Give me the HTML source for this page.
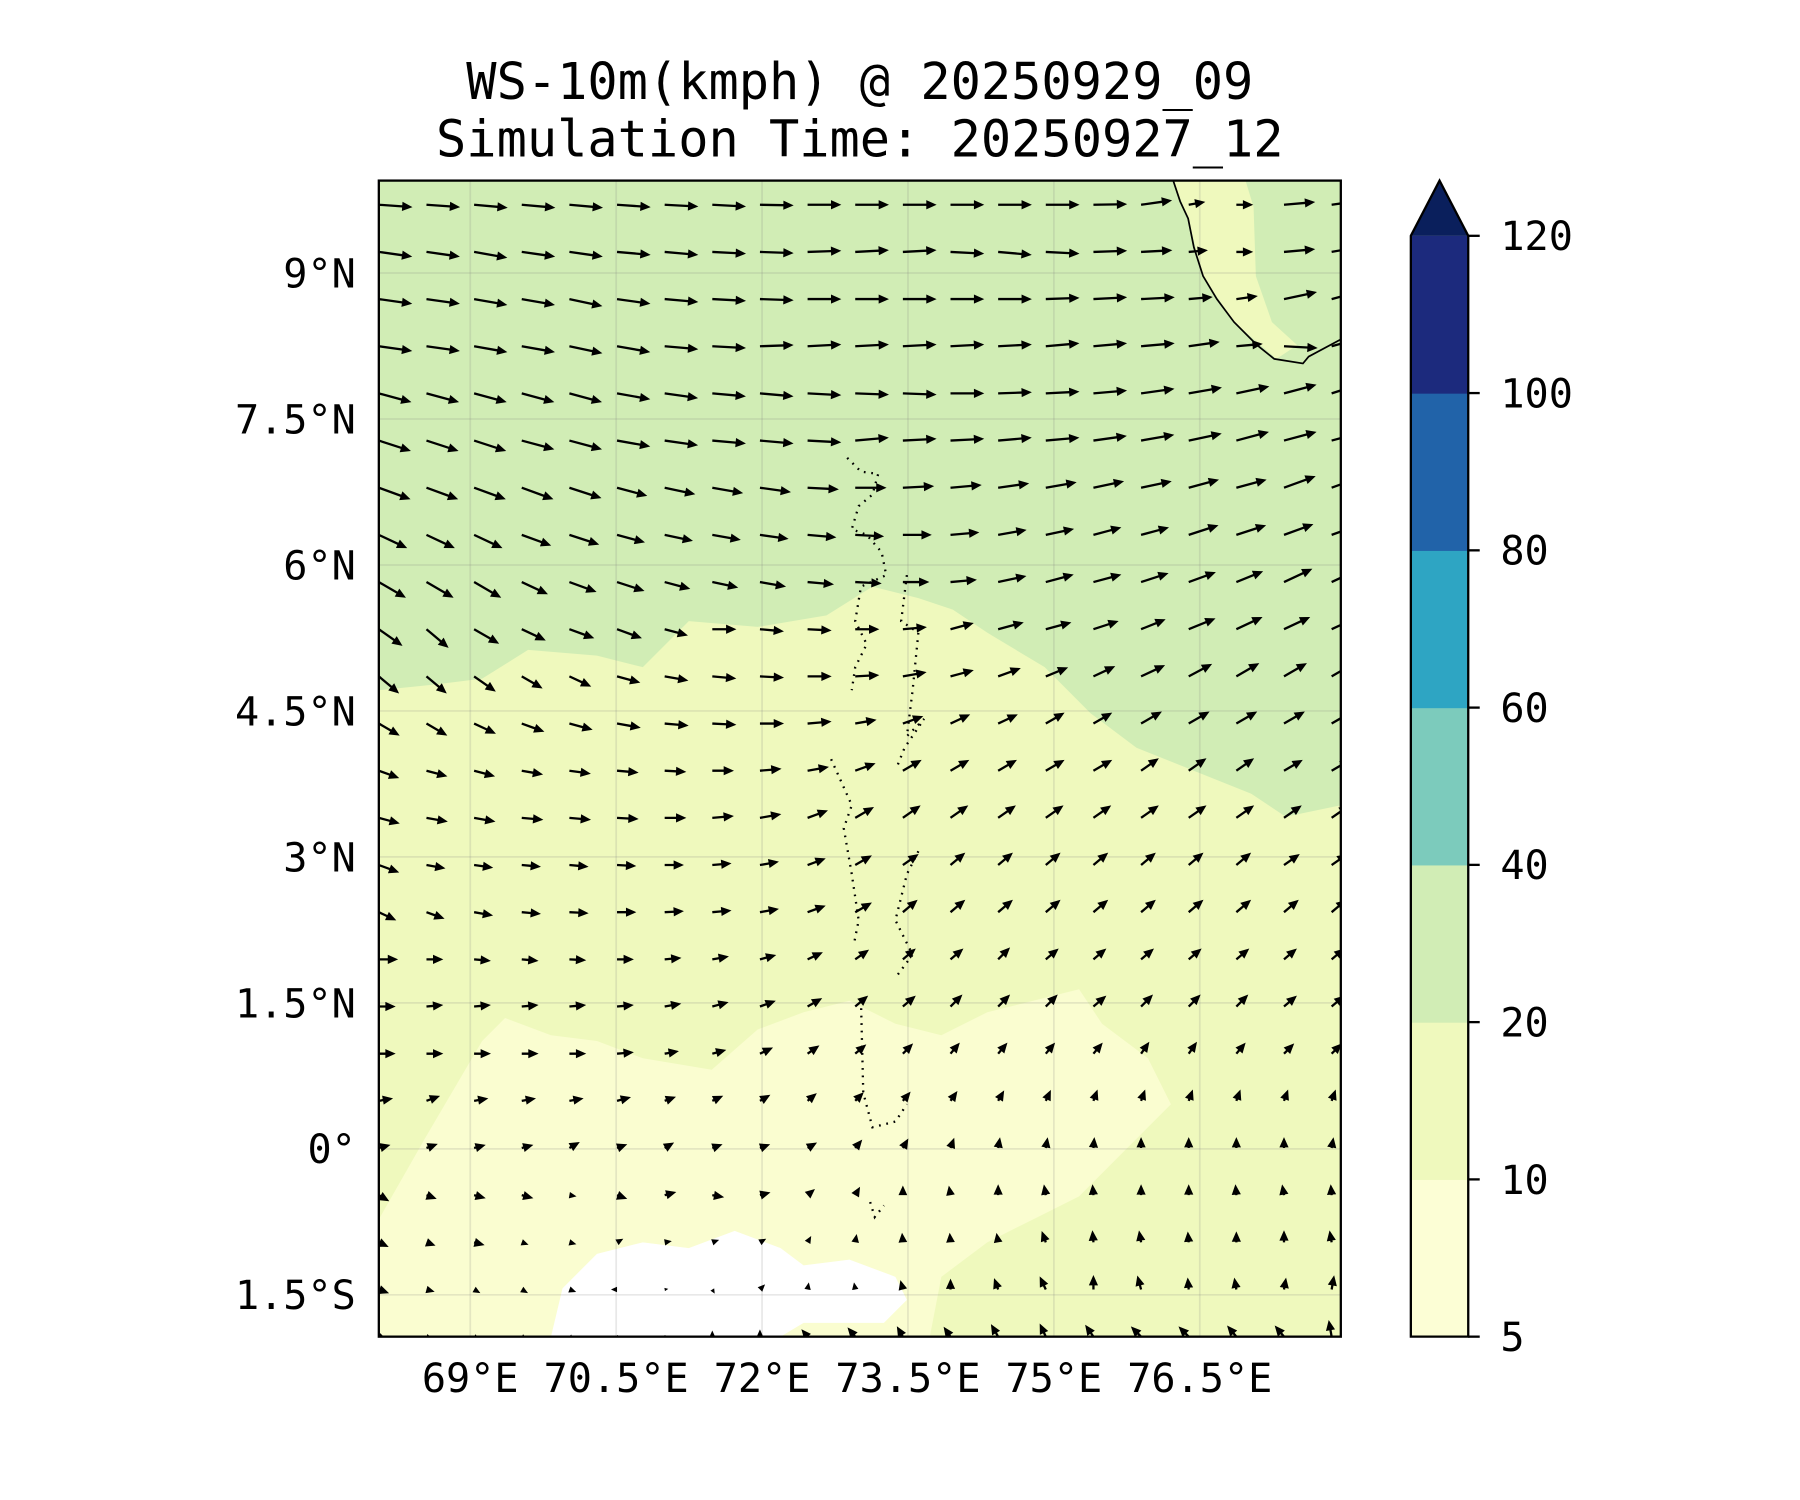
<!DOCTYPE html>
<html><head><meta charset="utf-8"><style>
html,body{margin:0;padding:0;background:#fff;}
svg{display:block;}
text{font-family:"DejaVu Sans Mono","Liberation Mono",monospace;fill:#000;}
</style></head><body>
<svg id="chart" width="1800" height="1500" viewBox="0 0 1568 1304" preserveAspectRatio="none" xmlns="http://www.w3.org/2000/svg">
<defs><clipPath id="plotclip"><rect x="330" y="157" width="838" height="1005"/></clipPath></defs>
<text x="749" y="86" font-size="43.8" text-anchor="middle">WS-10m(kmph) @ 20250929_09</text>
<text x="749" y="136" font-size="43.8" text-anchor="middle">Simulation Time: 20250927_12</text>
<g clip-path="url(#plotclip)">
  <rect x="330" y="157" width="838" height="1005" fill="#d1edb5"/>
  <path fill="#eff9bd" d="M330,600 L380,595 L420,590 L460,565 L520,570 L560,580 L600,540 L660,545 L720,535 L760,510 L800,520 L830,530 L860,550 L910,580 L950,620 L990,650 L1040,670 L1090,690 L1120,710 L1168,700 L1168,1162 L330,1162 Z"/>
  <path fill="#eff9bd" d="M1022,157 L1085,157 L1092,180 L1094,240 L1108,280 L1130,300 L1112,312 L1075,280 L1048,240 L1035,190 Z"/>
  <path fill="#fafdd0" d="M330,1060 L370,990 L420,905 L440,885 L480,900 L520,905 L560,920 L620,930 L660,895 L700,880 L740,870 L780,890 L820,900 L860,880 L900,870 L940,860 L960,890 L1000,920 L1020,960 L980,1000 L940,1040 L900,1060 L860,1080 L820,1110 L810,1162 L330,1162 Z"/>
  <path fill="#ffffff" d="M480,1162 L490,1120 L520,1090 L560,1080 L600,1085 L640,1070 L680,1085 L700,1100 L740,1095 L780,1110 L790,1130 L770,1150 L700,1150 L680,1162 Z"/>
  <g stroke="rgba(128,128,128,0.18)" stroke-width="1.5" id="grid"></g>
  <path fill="none" stroke="#000" stroke-width="1.5" d="M1022,157 L1028,175 L1035,190 L1040,215 L1048,240 L1060,260 L1075,280 L1095,300 L1110,312 L1135,316 L1140,310 L1168,295"/>
  <path fill="none" stroke="#000" stroke-width="2" stroke-dasharray="1.5 5" d="M738,398 L750,410 L765,412 L760,430 L748,440 L742,460 L755,465 L768,480 L772,500 L750,510 L745,540 L755,560 L745,580 L742,600 M790,500 L785,540 L800,550 L795,600 L790,640 L805,625 L788,650 L782,665 M724,660 L742,700 L735,720 L742,760 L748,800 L744,820 M800,740 L790,760 L780,800 L795,830 L780,850 M750,870 L752,950 L760,980 L780,975 L790,960 M758,1045 L762,1058 L770,1048"/>
  <g id="arrows"></g>
</g>
<rect x="330" y="157" width="838" height="1005" fill="none" stroke="#000" stroke-width="2"/>
<g id="ticklabels"></g>
<g id="cbar"></g>
</svg>
<script>
const NS = "http://www.w3.org/2000/svg";
const latTicks = [9, 7.5, 6, 4.5, 3, 1.5, 0, -1.5];
const latLabels = ["9°N","7.5°N","6°N","4.5°N","3°N","1.5°N","0°","1.5°S"];
const lonTicks = [69, 70.5, 72, 73.5, 75, 76.5];
const lonLabels = ["69°E","70.5°E","72°E","73.5°E","75°E","76.5°E"];
const cbarLevels = [5, 10, 20, 40, 60, 80, 100, 120];
const cbarColors = ["#fcfed5","#eff9bd","#d1edb5","#7ccbbc","#2ea5c3","#2163a9","#1c2a7d"];
const cbarExtendColor = "#0a1f5c";
// wind direction (deg CCW from east), rows north -> south, 21 columns west -> east
const windAngle = [
[-4,-4,-5,-5,-5,-4,-3,-3,-1,0,0,0,0,0,0,1,8,10,0,5,8],
[-8,-8,-10,-8,-8,-5,-5,-3,-2,2,3,3,-3,-5,-3,2,3,5,0,5,10],
[-8,-8,-10,-10,-12,-8,-5,-3,-2,0,0,0,0,0,2,3,3,5,8,12,15],
[-8,-8,-10,-10,-12,-10,-5,-3,2,3,3,3,3,3,5,5,5,8,5,-3,15],
[-15,-15,-15,-15,-15,-10,-8,-5,-5,-3,-2,-2,0,2,3,5,8,10,12,15,18],
[-18,-18,-18,-15,-15,-10,-8,-5,-5,-3,5,3,3,5,5,8,10,12,15,15,15],
[-20,-20,-20,-20,-18,-15,-12,-10,-8,-3,0,3,5,8,10,12,12,15,15,20,20],
[-25,-25,-25,-20,-18,-15,-12,-10,-8,-5,-3,0,5,10,12,15,15,18,18,20,20],
[-30,-30,-30,-25,-20,-18,-15,-12,-10,-5,-3,0,5,12,15,15,18,20,22,25,25],
[-35,-40,-30,-25,-20,-20,-15,0,-5,-3,0,5,15,15,15,18,22,22,25,25,25],
[-40,-40,-35,-30,-25,-15,-10,-5,-3,0,3,10,15,20,22,25,25,28,30,30,30],
[-30,-30,-25,-20,-15,-10,-5,-3,0,5,10,20,25,25,30,30,30,30,30,30,30],
[-20,-15,-15,-10,-8,-5,-3,0,5,10,20,30,30,30,30,30,35,35,35,30,30],
[-15,-10,-10,-5,-5,-3,0,5,10,20,30,35,35,35,35,35,35,35,35,35,35],
[-20,-10,-8,-5,-5,-3,0,5,10,20,30,35,40,40,40,40,40,40,40,35,35],
[-25,-20,-10,-5,-3,0,3,5,10,20,30,40,40,40,40,40,40,40,40,40,40],
[0,0,-5,-5,-3,0,5,10,15,25,35,40,40,45,40,40,40,40,40,40,40],
[0,5,5,5,5,5,10,15,20,30,40,40,45,45,45,40,45,45,45,40,40],
[0,0,0,0,0,5,10,15,25,35,40,45,50,50,50,50,55,55,50,45,45],
[10,20,10,10,10,15,20,25,30,40,45,50,55,60,65,70,70,70,70,70,70],
[15,20,15,15,30,20,30,20,20,30,50,60,70,80,80,85,90,90,90,90,80],
[-30,-20,-15,-15,-10,-20,15,-10,15,40,60,90,100,90,100,95,90,90,95,100,95],
[-25,-20,-15,-20,-15,30,10,20,30,60,80,95,95,100,110,95,100,95,90,90,100],
[-20,-15,-30,-30,-20,180,10,-60,45,80,100,105,90,110,115,90,105,95,100,80,80],
[-20,-20,-30,-30,-40,0,0,90,90,130,130,120,125,120,115,125,135,135,130,130,100]
];
// wind speed (kmph)
const windSpeed = [
[28,28,28,28,28,28,28,28,28,28,28,28,28,28,28,28,26,14,14,26,28],
[28,28,28,28,28,28,28,28,28,28,28,28,28,28,28,28,26,16,14,26,28],
[28,28,28,28,28,28,28,28,28,28,28,28,28,28,28,28,28,20,18,28,28],
[28,28,28,28,28,28,28,28,28,28,28,28,28,28,28,28,28,26,22,28,28],
[28,28,28,28,28,28,28,28,28,28,28,28,28,28,28,28,28,28,28,28,28],
[28,28,28,28,28,28,28,28,28,28,28,28,28,28,28,28,28,28,28,28,28],
[28,28,28,28,28,26,26,26,26,26,26,26,26,26,26,26,26,26,26,28,28],
[26,26,26,26,26,24,24,24,24,24,24,24,24,24,24,24,24,26,26,26,26],
[26,26,26,24,24,24,22,22,22,22,22,22,22,24,24,24,24,24,24,26,26],
[24,24,24,22,22,22,20,20,20,20,20,20,20,22,22,22,22,24,24,24,24],
[22,22,22,20,20,20,20,20,20,20,20,20,20,20,20,20,22,22,22,22,22],
[20,20,20,20,20,20,20,20,20,20,18,18,18,18,18,18,20,20,20,20,20],
[18,18,18,18,18,18,18,18,18,18,18,18,18,18,18,18,18,18,18,18,18],
[18,18,18,18,18,18,18,18,18,18,18,18,18,18,18,18,18,18,18,18,18],
[18,16,16,16,16,16,16,16,16,16,16,16,16,16,16,16,16,16,16,16,16],
[16,16,16,16,16,16,16,16,16,16,16,16,16,16,16,16,16,16,16,16,16],
[16,14,14,14,14,14,14,14,14,14,14,14,14,14,14,14,14,14,14,14,14],
[14,14,14,14,14,14,14,14,14,14,14,14,14,14,14,14,14,14,14,14,14],
[14,14,14,14,14,14,12,12,12,12,12,12,12,12,12,12,12,12,12,12,12],
[12,12,12,12,12,12,10,10,10,10,10,10,10,10,10,10,10,10,10,10,10],
[10,10,10,10,10,9,9,9,9,9,9,9,9,9,9,9,9,9,9,9,9],
[10,9,10,10,6,9,10,10,9,8,8,8,8,9,9,9,9,9,9,9,9],
[9,8,9,6,6,6,6,6,6,6,7,8,8,8,10,10,10,9,9,10,10],
[9,7,6,6,6,5,3,4,6,6,6,8,9,10,12,12,12,10,10,10,12],
[7,5,5,5,5,3,3,5,6,8,10,10,10,12,12,12,12,12,12,12,14]
];

const X0 = 330, X1 = 1168, Y0 = 157, Y1 = 1162;
const lonMin = 68.06, lonMax = 77.95, latMax = 9.95, latMin = -1.93;
function xScale(lon){ return X0 + (lon - lonMin) / (lonMax - lonMin) * (X1 - X0); }
function yScale(lat){ return Y0 + (latMax - lat) / (latMax - latMin) * (Y1 - Y0); }
const lenScale = 1.05;

const grid = document.getElementById('grid');
latTicks.forEach(function(t){
  const l = document.createElementNS(NS,'line');
  
  
  l.setAttribute('x1',X0); l.setAttribute('x2',X1);
  l.setAttribute('y1',yScale(t)); l.setAttribute('y2',yScale(t));
  grid.appendChild(l);
});
lonTicks.forEach(function(t){
  const l = document.createElementNS(NS,'line');
  
  
  l.setAttribute('y1',Y0); l.setAttribute('y2',Y1);
  l.setAttribute('x1',xScale(t)); l.setAttribute('x2',xScale(t));
  grid.appendChild(l);
});

const tl = document.getElementById('ticklabels');
latTicks.forEach(function(t,i){
  const tx = document.createElementNS(NS,'text');
  
  
  tx.setAttribute('x',310); tx.setAttribute('y',yScale(t)+12.5);
  tx.setAttribute('font-size','35'); tx.setAttribute('text-anchor','end');
  tx.textContent = latLabels[i];
  tl.appendChild(tx);
});
lonTicks.forEach(function(t,i){
  const tx = document.createElementNS(NS,'text');
  
  
  tx.setAttribute('x',xScale(t)); tx.setAttribute('y',1210);
  tx.setAttribute('font-size','35'); tx.setAttribute('text-anchor','middle');
  tx.textContent = lonLabels[i];
  tl.appendChild(tx);
});

// arrows
const ag = document.getElementById('arrows');
const nRows = windAngle.length, nCols = windAngle[0].length;
const dxCol = 41.5, dyRow = 41, ax0 = 330, ay0 = 178;
for (let j = 0; j < nRows; j++){
  for (let i = 0; i < nCols; i++){
    const L = windSpeed[j][i] * lenScale;
    const ang = windAngle[j][i];
    const h = Math.min(9, L), hw = Math.min(4, L*0.45), sw = 1;
    const pts = [[0,-sw],[L-h,-sw],[L-h,-hw],[L,0],[L-h,hw],[L-h,sw],[0,sw]];
    const p = document.createElementNS(NS,'polygon');
    
    
    p.setAttribute('points', pts.map(function(q){return q[0].toFixed(1)+','+q[1].toFixed(1);}).join(' '));
    p.setAttribute('fill','#000');
    p.setAttribute('transform','translate('+(ax0+dxCol*i)+','+(ay0+dyRow*j)+') rotate('+(-ang)+')');
    ag.appendChild(p);
  }
}

// colorbar
const cb = document.getElementById('cbar');
const CX = 1229, CW = 50, CY0 = 205, CY1 = 1162;
const segH = (CY1 - CY0) / (cbarLevels.length - 1);
function cbY(i){ return CY1 - i * segH; }
cbarColors.forEach(function(c,i){
  const r = document.createElementNS(NS,'rect');
  
  
  r.setAttribute('x',CX); r.setAttribute('width',CW);
  r.setAttribute('y',cbY(i+1)); r.setAttribute('height',segH+0.5);
  r.setAttribute('fill',c);
  cb.appendChild(r);
});
const tri = document.createElementNS(NS,'polygon');


tri.setAttribute('points', CX+','+CY0+' '+(CX+CW)+','+CY0+' '+(CX+CW/2)+',157');
tri.setAttribute('fill',cbarExtendColor);
cb.appendChild(tri);
const outline = document.createElementNS(NS,'polygon');


outline.setAttribute('points', CX+','+CY1+' '+CX+','+CY0+' '+(CX+CW/2)+',157 '+(CX+CW)+','+CY0+' '+(CX+CW)+','+CY1);
outline.setAttribute('fill','none'); outline.setAttribute('stroke','#000'); outline.setAttribute('stroke-width','2');
cb.appendChild(outline);
cbarLevels.forEach(function(v,i){
  const y = cbY(i);
  const tk = document.createElementNS(NS,'line');
  
  
  tk.setAttribute('x1',CX+CW); tk.setAttribute('x2',CX+CW+10);
  tk.setAttribute('y1',y); tk.setAttribute('y2',y);
  tk.setAttribute('stroke','#000'); tk.setAttribute('stroke-width','2');
  cb.appendChild(tk);
  const tx = document.createElementNS(NS,'text');
  
  
  tx.setAttribute('x',1307); tx.setAttribute('y',y+12.5);
  tx.setAttribute('font-size','35');
  tx.textContent = String(v);
  cb.appendChild(tx);
});
</script>
</body></html>
